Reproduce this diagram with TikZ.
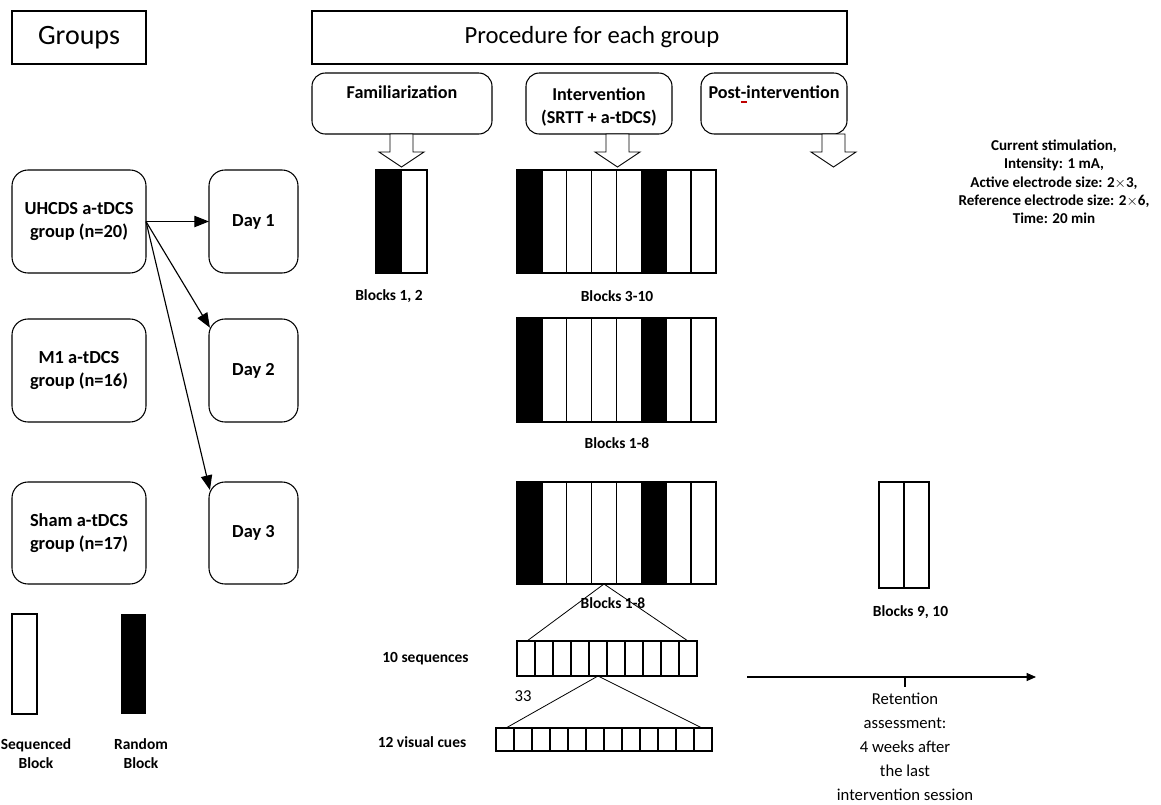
\documentclass[tikz,border=0pt]{standalone}
\usepackage{fontspec}
\setmainfont{Carlito}
\usetikzlibrary{arrows.meta,calc}
\begin{document}
\begin{tikzpicture}[x=0.75pt,y=-0.75pt,
  base/.style={draw, line width=0.8pt, inner sep=0pt, outer sep=0pt, align=center},
  sqbox/.style={base, minimum width=#1*0.75pt, minimum height=53*0.75pt},
  rbox/.style={base, rounded corners=10pt, minimum height=61*0.75pt, minimum width=#1*0.75pt},
  phasetxt/.style={align=center, inner sep=0pt, font=\bfseries\fontsize{13.6}{17}\selectfont},
  gbox/.style={base, rounded corners=12pt, minimum height=103*0.75pt, minimum width=#1*0.75pt, font=\bfseries\fontsize{13.8}{17.3}\selectfont},
  lbl/.style={align=center, inner sep=0pt, font=\bfseries\fontsize{11.6}{14.2}\selectfont},
  reg/.style={align=center, inner sep=0pt, font=\fontsize{12.5}{18}\selectfont},
  arrowline/.style={line width=0.85pt, -{Triangle[length=11pt,width=8.5pt]}},
  hollow/.style={draw, line width=0.7pt, fill=white},
  barline/.style={draw, line width=1pt}
]
\useasboundingbox (0,0) rectangle (1161,804);

% headers
\node[sqbox=134, font=\fontsize{21}{24}\selectfont] (groups) at (79,37.5) {Groups};
\node[sqbox=535] (proc) at (579.5,37.5) {};
\node[inner sep=0pt, font=\fontsize{18.5}{22}\selectfont] (proct) at (592,37.5) {Procedure for each group};

% phases
\node[rbox=180] (fam) at (402,103.5) {};
\node[rbox=146] (int) at (599,103.5) {};
\node[rbox=146] (post) at (774,103.5) {};
\node[phasetxt] (famt) at (402,107) {Familiarization\\\strut};
\node[phasetxt] (intt) at (599,107) {Intervention\\(SRTT + a-tDCS)};
\node[phasetxt] (postt) at (774,107) {Post\rlap{\textcolor{red!75!black}{\rule[-3pt]{0.32em}{1.3pt}}}-intervention\\\strut};

% hollow down arrows
\foreach \cx in {401.5,617.5,833.5}{
  \draw[hollow] (\cx-11.5,134) -- (\cx+11.5,134) -- (\cx+11.5,152) -- (\cx+22.5,152)
     -- (\cx,167) -- (\cx-22.5,152) -- (\cx-11.5,152) -- cycle;
}

% stimulation text
\node[align=center, inner sep=0pt, font=\bfseries\fontsize{11.3}{13.7}\selectfont] (stim) at (1054,182)
 {Current stimulation,\\Intensity: 1 mA,\\Active electrode size: 2$\times$3,\\Reference electrode size: 2$\times$6,\\Time: 20 min};

% groups
\node[gbox=134] (g1) at (79,221.5) {UHCDS a-tDCS\\group (n=20)};
\node[gbox=134] (g2) at (79,370.5) {M1 a-tDCS\\group (n=16)};
\node[gbox=134, minimum height=102*0.75pt] (g3) at (79,533) {Sham a-tDCS\\group (n=17)};
\node[gbox=89] (d1) at (253.5,221.5) {Day 1};
\node[gbox=89] (d2) at (253.5,370.5) {Day 2};
\node[gbox=89, minimum height=102*0.75pt] (d3) at (253.5,533) {Day 3};

\draw[arrowline] (g1.east) -- (d1.west);
\draw[arrowline] (g1.east) -- ([yshift=-6.5pt,xshift=0.7pt]d2.north west);
\draw[arrowline] (g1.east) -- ([yshift=-6pt,xshift=0.7pt]d3.north west);

% familiarization blocks
\fill (376,170) rectangle (401.5,273);
\draw[barline] (376,170) rectangle (427,273);
\draw[barline] (401.5,170) -- (401.5,273);

% intervention blocks (three rows)
\foreach \ya/\yb in {170/273, 318/422, 482/584}{
  \foreach \c [count=\i from 0] in {1,0,0,0,0,1,0,0}{
    \ifnum\c=1 \fill (517+\i*24.875,\ya) rectangle (517+\i*24.875+24.875,\yb); \fi
    \draw[barline] (517+\i*24.875,\ya) rectangle (517+\i*24.875+24.875,\yb);
  }
}

% post blocks
\draw[barline] (879,482) rectangle (929,588);
\draw[barline] (904,482) -- (904,588);

% labels
\node[lbl] (l12) at (389,296) {Blocks 1, 2};
\node[lbl] (l310) at (617,296) {Blocks 3-10};
\node[lbl] (l18a) at (617,443) {Blocks 1-8};
\node[lbl] (l910) at (910.5,612) {Blocks 9, 10};

% expansion triangles
\coordinate (apex1) at (604,584);
\coordinate (s1l) at (527,641);
\coordinate (s1r) at (688,641);
\draw[line width=0.6pt] (s1l) -- (apex1) -- (s1r);
\node[lbl] (l18b) at (613,603) {Blocks 1-8};

\foreach \i in {0,...,9}{
  \draw[line width=0.8pt] (517+\i*18,641) rectangle (517+\i*18+18,676);
}
\coordinate (apex2) at (598,676);
\coordinate (s2l) at (506,728);
\coordinate (s2r) at (702,728);
\draw[line width=0.6pt] (s2l) -- (apex2) -- (s2r);
\foreach \i in {0,...,11}{
  \draw[line width=0.8pt] (496+\i*18,728) rectangle (496+\i*18+18,751);
}
\node[lbl] (lseq) at (425.5,659) {10 sequences};
\node[lbl] (lcue) at (422,742) {12 visual cues};
\node[reg] (n33) at (523,696) {33};

% timeline
\coordinate (t0) at (747,677);
\coordinate (t1) at (1036,677);
\coordinate (tk) at (905,677);
\coordinate (tkb) at (905,687);
\draw[line width=0.8pt, -{Triangle[length=7pt,width=6pt]}] (t0) -- (t1);
\draw[line width=0.8pt] (tk) -- (tkb);
\node[reg] (ret) at (905,747) {Retention\\assessment:\\4 weeks after\\the last\\intervention session};

% legend
\draw[line width=0.8pt] (12,614) rectangle (37,714);
\fill (121,614) rectangle (146,714);
\node[lbl] (lsb) at (36,753.5) {Sequenced\\Block};
\node[lbl] (lrb) at (141,753.5) {Random\\Block};
\end{tikzpicture}
\end{document}
